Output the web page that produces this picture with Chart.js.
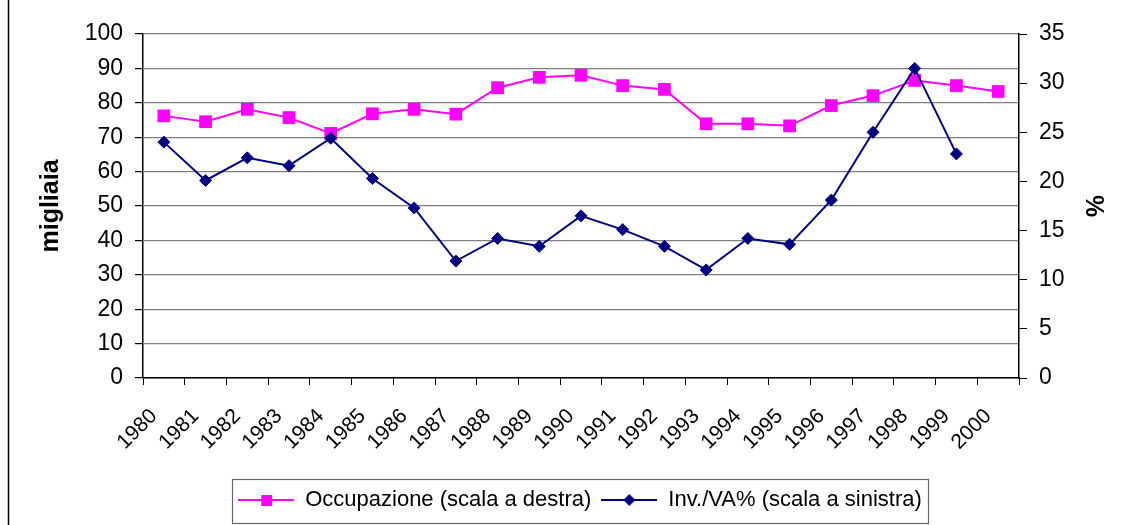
<!DOCTYPE html>
<html lang="it">
  <head>
    <meta charset="UTF-8" />
    <title>Occupazione e Inv./VA%</title>
    <script src="https://cdn.jsdelivr.net/npm/chart.js"></script>
    <style>
      * {
        margin: 0;
        padding: 0;
        box-sizing: border-box;
      }
      body {
        background: #fff;
        width: 1125px;
        height: 525px;
        overflow: hidden;
      }
    </style>
  </head>
  <body>
    <canvas id="lineChart" width="1125" height="525"></canvas>

    <script>
      // dati
      const anni = ["1980", "1981", "1982", "1983", "1984", "1985", "1986", "1987", "1988", "1989", "1990",
        "1991", "1992", "1993", "1994", "1995", "1996", "1997", "1998", "1999", "2000"];
      const occupazione = [76.2, 74.5, 78.1, 75.7, 71.1, 76.8, 78.1, 76.7, 84.4, 87.4, 88.0,
        85.0, 83.9, 73.9, 73.9, 73.3, 79.2, 82.1, 86.5, 85.0, 83.3];
      const invVa = [24.0, 20.1, 22.4, 21.6, 24.4, 20.3, 17.3, 11.9, 14.2, 13.4, 16.5,
        15.1, 13.4, 11.0, 14.2, 13.6, 18.1, 25.0, 31.5, 22.8, null];
      const tickSinistra = [0, 10, 20, 30, 40, 50, 60, 70, 80, 90, 100];
      const tickDestra = [0, 5, 10, 15, 20, 25, 30, 35];

      const font = "'Liberation Sans', Arial, sans-serif";

      // piccola icona per la legenda: linea con marcatore al centro
      function iconaLegenda(colore, forma) {
        const c = document.createElement("canvas");
        c.width = 56;
        c.height = 16;
        const ctx = c.getContext("2d");
        ctx.strokeStyle = colore;
        ctx.fillStyle = colore;
        ctx.lineWidth = 2;
        ctx.beginPath();
        ctx.moveTo(0, 8);
        ctx.lineTo(56, 8);
        ctx.stroke();
        ctx.beginPath();
        if (forma === "rect") {
          ctx.rect(23, 3, 11, 11);
        } else {
          ctx.moveTo(28, 2);
          ctx.lineTo(34, 8);
          ctx.lineTo(28, 14);
          ctx.lineTo(22, 8);
          ctx.closePath();
        }
        ctx.fill();
        return c;
      }

      const cornice = {
        id: "cornice",
        afterLayout(chart) {
          // sposta un po' la legenda a destra, come nell'originale
          const l = chart.legend;
          l.left += 8;
          l.right += 8;
          l.legendHitBoxes.forEach((b) => (b.left += 8));
        },
        afterDraw(chart) {
          const ctx = chart.ctx;
          ctx.save();
          // linea a sinistra del riquadro
          ctx.strokeStyle = "#000";
          ctx.lineWidth = 1.5;
          ctx.beginPath();
          ctx.moveTo(8.5, 0);
          ctx.lineTo(8.5, 525);
          ctx.stroke();
          // riquadro della legenda
          const boxes = chart.legend.legendHitBoxes;
          if (boxes && boxes.length) {
            const left = Math.min(...boxes.map((b) => b.left)) - 6;
            const right = Math.max(...boxes.map((b) => b.left + b.width)) + 6;
            ctx.strokeStyle = "#666";
            ctx.lineWidth = 1.2;
            ctx.strokeRect(Math.round(left) + 0.5, 479.5, Math.round(right - left), 44);
          }
          ctx.restore();
        },
      };

      new Chart(document.getElementById("lineChart"), {
        type: "line",
        data: {
          labels: anni,
          datasets: [
            {
              label: "Occupazione (scala a destra)",
              data: occupazione,
              yAxisID: "y",
              borderColor: "#ff00ff",
              backgroundColor: "#ff00ff",
              borderWidth: 2,
              pointStyle: "rect",
              pointRadius: 9,
              pointBorderWidth: 0,
              tension: 0,
              order: 1,
            },
            {
              label: "Inv./VA% (scala a sinistra)",
              data: invVa,
              yAxisID: "y1",
              borderColor: "#000080",
              backgroundColor: "#000080",
              borderWidth: 2,
              pointStyle: "rectRot",
              pointRadius: 6,
              pointBorderWidth: 1,
              tension: 0,
              order: 0,
            },
          ],
        },
        options: {
          responsive: false,
          animation: false,
          layout: {
            padding: { top: 34, left: 30, right: 11, bottom: 4 },
          },
          scales: {
            x: {
              offset: true,
              grid: {
                offset: true,
                drawOnChartArea: false,
                drawTicks: true,
                tickLength: 7,
                tickColor: "#000",
              },
              border: { color: "#000", width: 1.5 },
              ticks: {
                color: "#000",
                font: { family: font, size: 21 },
                minRotation: 45,
                maxRotation: 45,
                autoSkip: false,
                labelOffset: -10,
                padding: 19,
              },
              afterFit(scale) {
                scale.height = 101;
              },
            },
            y: {
              position: "left",
              min: 0,
              max: 100,
              afterBuildTicks(scale) {
                scale.ticks = tickSinistra.map((v) => ({ value: v }));
              },
              grid: {
                color: "#808080",
                lineWidth: 1.2,
                tickColor: "#000",
                tickLength: 8,
              },
              border: { color: "#000", width: 1.5 },
              ticks: {
                color: "#000",
                font: { family: font, size: 23 },
                padding: 12,
              },
              title: {
                display: true,
                text: "migliaia",
                color: "#000",
                font: { family: font, size: 25, weight: "bold" },
                padding: 6,
              },
              afterFit(scale) {
                scale.width = 113;
              },
            },
            y1: {
              position: "right",
              min: 0,
              max: 35,
              afterBuildTicks(scale) {
                scale.ticks = tickDestra.map((v) => ({ value: v }));
              },
              grid: {
                drawOnChartArea: false,
                tickColor: "#000",
                tickLength: 8,
              },
              border: { color: "#000", width: 1.5 },
              ticks: {
                color: "#000",
                font: { family: font, size: 23 },
                padding: 12,
              },
              title: {
                display: true,
                text: "%",
                color: "#000",
                font: { family: font, size: 25, weight: "bold" },
                padding: 6,
              },
              afterFit(scale) {
                scale.width = 95;
              },
            },
          },
          plugins: {
            tooltip: { enabled: false },
            legend: {
              position: "bottom",
              labels: {
                color: "#000",
                font: { family: font, size: 22 },
                usePointStyle: true,
                pointStyleWidth: 56,
                padding: 10,
                boxHeight: 16,
                sort: (a, b) => a.datasetIndex - b.datasetIndex,
                generateLabels(chart) {
                  return chart.data.datasets.map((ds, i) => ({
                    text: ds.label,
                    fontColor: "#000",
                    pointStyle: iconaLegenda(ds.borderColor, ds.pointStyle),
                    datasetIndex: i,
                    lineWidth: 0,
                    strokeStyle: "transparent",
                    fillStyle: "transparent",
                  }));
                },
              },
            },
          },
        },
        plugins: [cornice],
      });
    </script>
  </body>
</html>
